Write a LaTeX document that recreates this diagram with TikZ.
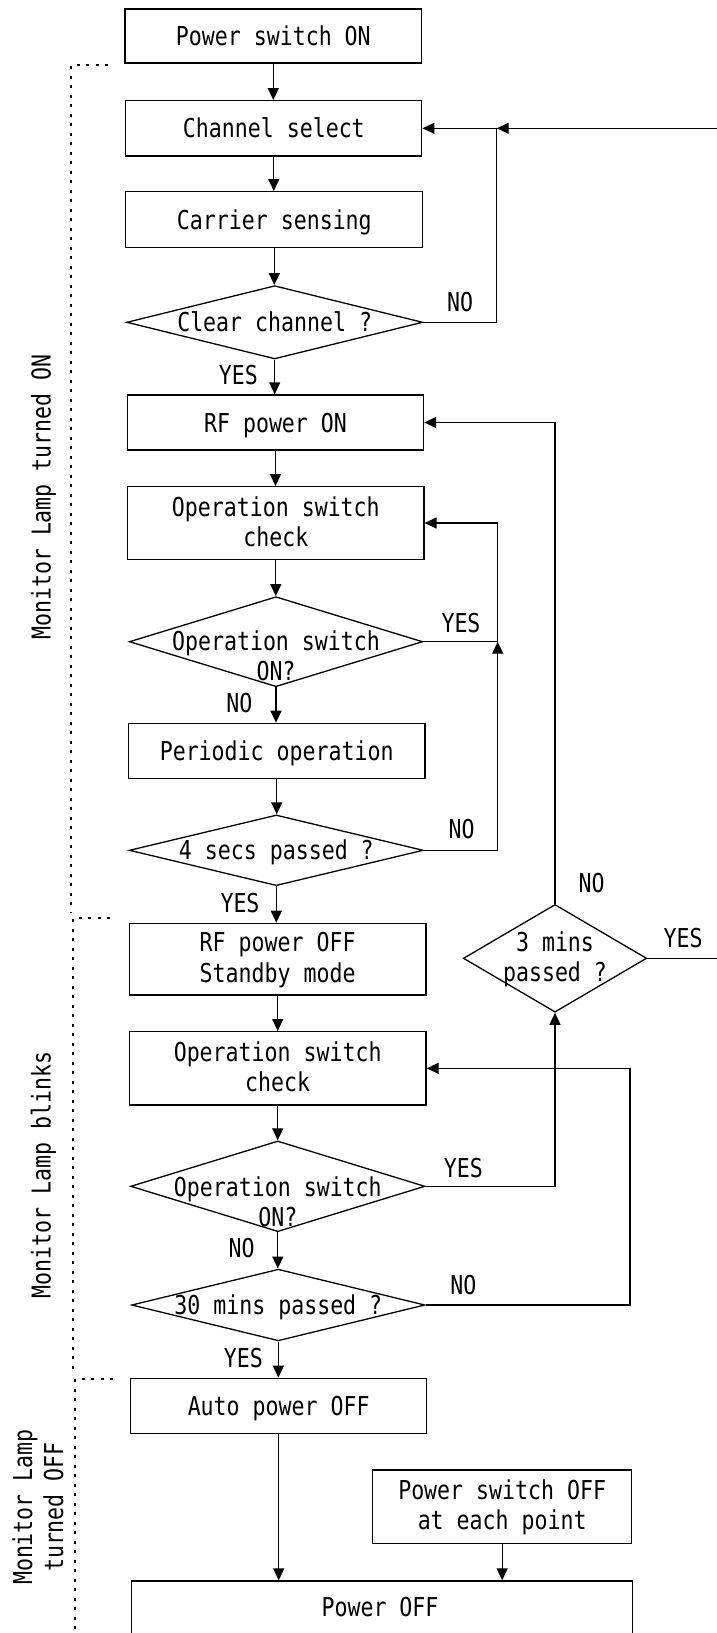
\documentclass[tikz,border=0pt]{standalone}
\usepackage{fontspec}
\newfontfamily\dfont{DejaVu Sans Mono}[FakeStretch=0.83]
\usetikzlibrary{arrows.meta,shapes.geometric}
\begin{document}
\begin{tikzpicture}[x=1pt,y=-1pt,
  every node/.style={font=\dfont\fontsize{26}{31}\selectfont, text height=19pt, text depth=0pt, inner sep=0pt},
  box/.style={draw, line width=1.3pt, rectangle},
  dia/.style={draw, line width=1.3pt, diamond, text height=0pt},
  arr/.style={line width=1.3pt, -{Triangle[length=12pt,width=11pt]}},
  brk/.style={line width=2.2pt, dash pattern=on 3pt off 6.5pt}
]
\useasboundingbox (0,0) rectangle (716,1633);

% main column
\node[box, minimum width=296.7pt, minimum height=54pt] (pon) at (273.3,36) {Power switch ON};
\node[box, minimum width=296pt, minimum height=55.3pt] (ch) at (273.8,128.3) {Channel select};
\node[box, minimum width=297pt, minimum height=55.6pt] (cs) at (274.3,219.5) {Carrier sensing};
\node[dia, minimum width=296pt, minimum height=73.3pt] (cc) at (274.7,322.3) {};
\node (cct) at (cc.center) {Clear channel ?};
\node[box, minimum width=296pt, minimum height=55pt] (rfon) at (275.5,422.5) {RF power ON};
\node[box, minimum width=296.3pt, minimum height=72.6pt] (osc1) at (275.8,523) {};
\node (osc1a) at (275.8,507) {Operation switch};
\node (osc1b) at (275.8,537) {check};
\node[dia, minimum width=293.4pt, minimum height=90pt] (oso1) at (276,641.7) {};
\node (oso1a) at (276,640.7) {Operation switch};
\node (oso1b) at (276,670.7) {ON?};
\node[box, minimum width=296.7pt, minimum height=55pt] (per) at (276.7,750.8) {Periodic operation};
\node[dia, minimum width=294pt, minimum height=70.7pt] (s4) at (276.3,850.3) {};
\node (s4t) at (s4.center) {4 secs passed ?};
\node[box, minimum width=296.7pt, minimum height=71.7pt] (rfoff) at (277.7,959.2) {};
\node (rfoffa) at (277.7,942) {RF power OFF};
\node (rfoffb) at (277.7,973) {Standby mode};
\node[box, minimum width=296.7pt, minimum height=73.3pt] (osc2) at (277.7,1068.3) {};
\node (osc2a) at (277.7,1052) {Operation switch};
\node (osc2b) at (277.7,1082) {check};
\node[dia, minimum width=294.3pt, minimum height=90.7pt] (oso2) at (277.8,1186.3) {};
\node (oso2a) at (277.8,1186.7) {Operation switch};
\node (oso2b) at (277.8,1216.7) {ON?};
\node[dia, minimum width=293.3pt, minimum height=71.7pt] (m30) at (278.3,1305) {};
\node (m30t) at (m30.center) {30 mins passed ?};
\node[box, minimum width=296pt, minimum height=55pt] (apo) at (278.7,1405.8) {Auto power OFF};
\node[box, minimum width=259pt, minimum height=73.3pt] (psoff) at (502.2,1506.7) {};
\node (psoffa) at (502.2,1490) {Power switch OFF};
\node (psoffb) at (502.2,1520) {at each point};
\node[box, minimum width=501pt, minimum height=55pt] (poff) at (382.2,1608.5) {};
\node (pofft) at (380,1606.7) {Power OFF};

% side decision
\node[dia, minimum width=183.4pt, minimum height=107.7pt] (m3) at (555,958.3) {};
\node (m3a) at (555,941.7) {3 mins};
\node (m3b) at (555,971.7) {passed ?};

% labels
\node (l1) at (460,301.7) {NO};
\node (l2) at (238.3,375) {YES};
\node (l3) at (461,622.7) {YES};
\node (l4) at (239.3,703.3) {NO};
\node (l5) at (461.7,829.3) {NO};
\node (l6) at (240,903.3) {YES};
\node (l7) at (591.7,883.3) {NO};
\node (l8) at (683,938) {YES};
\node (l9) at (463.3,1168.3) {YES};
\node (l10) at (241.7,1248.3) {NO};
\node (l11) at (463.3,1285) {NO};
\node (l12) at (243.3,1358.3) {YES};

% straight flow
\draw[arr] (pon.south) -- (pon.south |- ch.north);
\draw[arr] (ch.south) -- (ch.south |- cs.north);
\draw[arr] (cs.south) -- (cs.south |- cc.north);
\draw[arr] (cc.south) -- (cc.south |- rfon.north);
\draw[arr] (rfon.south) -- (rfon.south |- osc1.north);
\draw[arr] (osc1.south) -- (osc1.south |- oso1.north);
\draw[arr] (oso1.south) -- (oso1.south |- per.north);
\draw[arr] (per.south) -- (per.south |- s4.north);
\draw[arr] (s4.south) -- (s4.south |- rfoff.north);
\draw[arr] (rfoff.south) -- (rfoff.south |- osc2.north);
\draw[arr] (osc2.south) -- (osc2.south |- oso2.north);
\draw[arr] (oso2.south) -- (oso2.south |- m30.north);
\draw[arr] (m30.south) -- (m30.south |- apo.north);
\draw[arr] (apo.south) -- (apo.south |- poff.north);
\draw[arr] (psoff.south) -- (psoff.south |- poff.north);

% loops
\coordinate (j1) at (496.7,128.3);
\coordinate (rt) at (718,128.3);
\coordinate (j2) at (497.7,641.7);
\coordinate (j3) at (630,1305);
\draw[arr] (cc.east) -| (j1) -- (ch.east);
\draw[arr] (m3.east) -- (m3.east -| rt) -- (rt) -- (j1);
\draw[arr] (m3.north) |- (rfon.east);
\draw[arr] (oso1.east) -- (j2) |- (osc1.east);
\draw[arr] (s4.east) -| (j2);
\draw[arr] (oso2.east) -| (m3.south);
\draw[arr] (m30.east) -- (j3) |- (osc2.east);

% brackets
\draw[brk] (108,65) -- (71,65) -- (71,912);
\draw[brk] (110,918) -- (73,918) -- (73,1375);
\draw[brk] (113,1379) -- (75,1379) -- (75,1640);

\node[rotate=90] (lamp1) at (41,497) {Monitor Lamp turned ON};
\node[rotate=90] (lamp2) at (41,1175) {Monitor Lamp blinks};
\node[rotate=90] (lamp3a) at (22.5,1507) {Monitor Lamp};
\node[rotate=90] (lamp3b) at (53.5,1507) {turned OFF};
\end{tikzpicture}
\end{document}
